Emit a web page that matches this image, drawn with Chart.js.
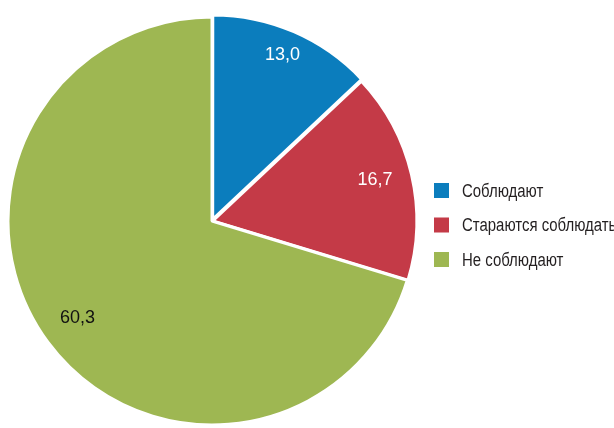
<!DOCTYPE html>
<html>
<head>
<meta charset="utf-8">
<script src="https://cdn.jsdelivr.net/npm/chart.js@4"></script>
<style>
  html, body { margin: 0; padding: 0; background: #fff; }
  #wrap { width: 614px; height: 428px; position: relative; }
</style>
</head>
<body>
<div id="wrap"><canvas id="grafico"></canvas></div>
<script>
// Категории и значения
const categorias = ['Соблюдают', 'Стараются соблюдать', 'Не соблюдают'];
// размеры секторов, как они нарисованы на картинке (зелёный сектор ~70% круга)
const valores = [13.0, 16.7, 70.3];
// подписи, напечатанные на секторах
const subpisi = ['13,0', '16,7', '60,3'];
const colores = ['#0b7dbd', '#c43a47', '#9eb752'];
const colorTexto = ['#ffffff', '#ffffff', '#111111'];

const FUENTE = '"Liberation Sans", Arial, sans-serif';

// подписи на секторах
const etiquetas = {
    id: 'etiquetas',
    afterDatasetsDraw(chart) {
        const ctx = chart.ctx;
        const meta = chart.getDatasetMeta(0);
        const dist = [0.87, 0.82, 0.82];
        ctx.save();
        ctx.font = '18px ' + FUENTE;
        ctx.textAlign = 'center';
        ctx.textBaseline = 'middle';
        meta.data.forEach((arc, i) => {
            const p = arc.getProps(['x', 'y', 'startAngle', 'endAngle', 'outerRadius']);
            const a = (p.startAngle + p.endAngle) / 2;
            const r = p.outerRadius * dist[i];
            ctx.fillStyle = colorTexto[i];
            ctx.fillText(subpisi[i], p.x + Math.cos(a) * r, p.y + Math.sin(a) * r - 3);
        });
        ctx.restore();
    }
};

// легенда справа (шрифт узкий, как в оригинале)
const leyenda = {
    id: 'leyenda',
    afterDraw(chart) {
        const ctx = chart.ctx;
        ctx.save();
        ctx.font = '18px ' + FUENTE;
        ctx.textBaseline = 'middle';
        categorias.forEach((c, i) => {
            const y = 190 + i * 34.5;
            ctx.fillStyle = colores[i];
            ctx.fillRect(434, y - 7, 15, 15);
            ctx.fillStyle = '#231f20';
            ctx.save();
            ctx.translate(462, y + 2);
            ctx.scale(0.83, 1);
            ctx.fillText(c, 0, 0);
            ctx.restore();
        });
        ctx.restore();
    }
};

new Chart(document.getElementById('grafico'), {
    type: 'pie',
    data: {
        labels: categorias,
        datasets: [{
            data: valores,
            backgroundColor: colores,
            borderColor: '#ffffff',
            borderWidth: 3,
            offset: [7, 3, 0]
        }]
    },
    options: {
        responsive: true,
        maintainAspectRatio: false,
        animation: false,
        radius: 204,
        layout: { padding: { left: 0, right: 190, top: 14, bottom: 0 } },
        plugins: {
            legend: { display: false },
            tooltip: { enabled: false }
        }
    },
    plugins: [etiquetas, leyenda]
});
</script>
</body>
</html>
